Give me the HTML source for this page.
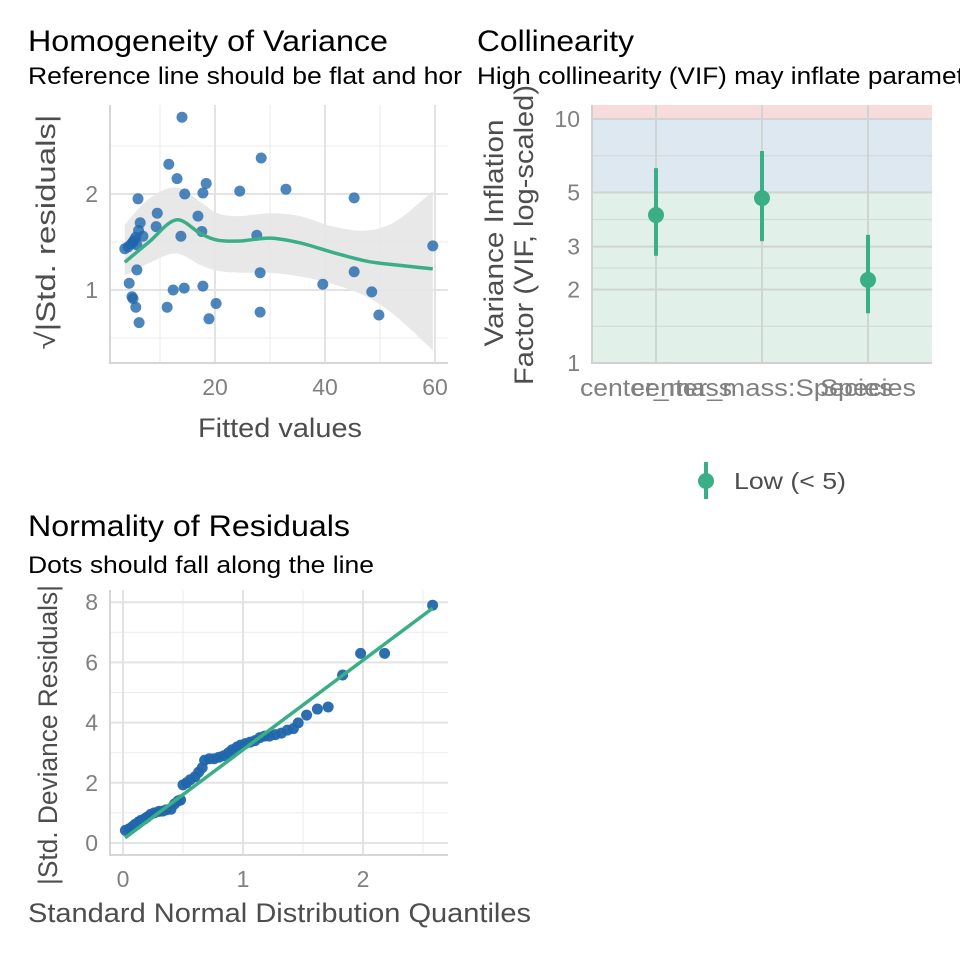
<!DOCTYPE html>
<html><head><meta charset="utf-8"><style>
body{margin:0;background:#fff}
svg{display:block;font-family:"Liberation Sans",sans-serif}
</style></head><body>
<svg id="c" width="960" height="960">
<rect width="960" height="960" fill="#fff"/>
<g id="p1"></g>
<g id="p2"></g>
<g id="p3"></g>
</svg>
<script>
// ---- Panel 1 data ----
const hvFitted=[14.0,28.4,11.6,13.1,18.4,14.5,17.8,24.5,32.9,45.3,6.0,9.5,16.9,9.3,6.4,17.6,13.8,27.6,6.9,5.1,4.2,3.6,5.8,59.6,5.8,28.2,45.3,4.4,39.6,12.4,14.4,17.8,4.9,5.1,48.5,20.2,11.3,5.6,28.2,49.8,18.9,6.2,5.3,6.1,4.8,5.6];
const hvResid=[2.80,2.375,2.31,2.16,2.11,2.00,2.01,2.03,2.05,1.96,1.95,1.80,1.77,1.66,1.70,1.61,1.56,1.57,1.56,1.50,1.45,1.43,1.47,1.46,1.21,1.18,1.19,1.07,1.06,1.00,1.02,1.04,0.93,0.91,0.98,0.86,0.82,0.82,0.77,0.74,0.70,0.66,1.52,1.62,1.48,1.55];
const smoothX=[3.6,8,12.9,17.3,20.4,24.5,30,35.5,41.5,47.6,53,59.6];
const smoothY=[1.29,1.50,1.73,1.59,1.52,1.51,1.54,1.49,1.39,1.30,1.26,1.22];
const bandUpper=[1.68,1.95,2.07,1.92,1.80,1.77,1.80,1.77,1.66,1.62,1.72,2.03];
const bandLower=[1.15,1.28,1.38,1.26,1.20,1.18,1.18,1.14,1.06,0.93,0.72,0.37];
const hvXTicks=[20,40,60];
const hvYTicks=[1,2];
// ---- Panel 2 data ----
const vifTerms=["center_mass","center_mass:Species","Species"];
const vifValues=[4.04,4.74,2.19];
const vifLow=[2.75,3.16,1.60];
const vifHigh=[6.29,7.39,3.35];
const vifTicks=[1,2,3,5,10];
const vifMinor=[1.414,2.449,3.873,7.071];
// ---- Panel 3 data ----
const qqX=[0.02,0.05,0.08,0.1,0.13,0.15,0.18,0.2,0.23,0.26,0.3,0.33,0.36,0.4,0.43,0.46,0.48,0.5,0.53,0.56,0.6,0.63,0.66,0.68,0.72,0.76,0.8,0.84,0.88,0.91,0.95,0.98,1.02,1.06,1.1,1.14,1.18,1.22,1.27,1.32,1.37,1.42,1.46,1.53,1.62,1.71,1.83,1.98,2.18,2.58];
const qqY=[0.42,0.47,0.55,0.62,0.7,0.75,0.8,0.86,0.95,1.0,1.05,1.06,1.1,1.12,1.3,1.4,1.43,1.93,2.0,2.1,2.2,2.35,2.5,2.75,2.8,2.8,2.85,2.9,3.0,3.1,3.19,3.25,3.3,3.35,3.4,3.5,3.55,3.55,3.6,3.65,3.75,3.8,3.99,4.25,4.45,4.52,5.58,6.3,6.3,7.9];
const qqLineX=[0.017,2.58];
const qqLineY=[0.17,7.8];
const qqXTicks=[0,1,2];
const qqYTicks=[0,2,4,6,8];

const NS="http://www.w3.org/2000/svg";
function mk(parent,tag,attrs,text){const e=document.createElementNS(NS,tag);for(const k in attrs)e.setAttribute(k,attrs[k]);if(text!==undefined)e.textContent=text;parent.appendChild(e);return e;}
function crPath(pts,start){let d=start?('M'+pts[0][0]+' '+pts[0][1]):('L'+pts[0][0]+' '+pts[0][1]);
for(let i=0;i<pts.length-1;i++){const p0=pts[Math.max(i-1,0)],p1=pts[i],p2=pts[i+1],p3=pts[Math.min(i+2,pts.length-1)];
const c1=[p1[0]+(p2[0]-p0[0])/6,p1[1]+(p2[1]-p0[1])/6],c2=[p2[0]-(p3[0]-p1[0])/6,p2[1]-(p3[1]-p1[1])/6];
d+=`C${c1[0]} ${c1[1]} ${c2[0]} ${c2[1]} ${p2[0]} ${p2[1]}`;}return d;}
const TICK=23, AXT=27, TITLE=30, SUB=24;

// ===== Panel 1 =====
(function(){
const g=document.getElementById('p1');
const L=110,R=448,T=105,B=363;
const sx=v=>105+5.5*v, sy=v=>386-96*v;
for(const v of [10,30,50]){const l=mk(g,'line',{x1:sx(v),x2:sx(v),y1:T,y2:B,stroke:'#ebebeb','stroke-width':1});}
for(const v of [0.5,1.5,2.5]){const l=mk(g,'line',{x1:L,x2:R,y1:sy(v),y2:sy(v),stroke:'#ebebeb','stroke-width':1});}
for(const v of hvXTicks){const l=mk(g,'line',{x1:sx(v),x2:sx(v),y1:T,y2:B,stroke:'#e3e3e3','stroke-width':2});
const t=mk(g,'text',{x:sx(v),y:B+32,'text-anchor':'middle','font-size':TICK,fill:'#808080'},String(v));}
for(const v of hvYTicks){const l=mk(g,'line',{x1:L,x2:R,y1:sy(v),y2:sy(v),stroke:'#e3e3e3','stroke-width':2});
const t=mk(g,'text',{x:L-12,y:sy(v)+8,'text-anchor':'end','font-size':TICK,fill:'#808080'},String(v));}
const ax=mk(g,'path',{d:`M${L} ${T}V${B}H${R}`,fill:'none',stroke:'#d6d6d6','stroke-width':2});
const up=smoothX.map((x,i)=>[sx(x),sy(bandUpper[i])]);
const lo=smoothX.map((x,i)=>[sx(x),sy(bandLower[i])]).reverse();
const band=mk(g,'path',{d:crPath(up,true)+crPath(lo,false)+'Z',fill:'#e6e6e6','fill-opacity':0.9});
hvFitted.forEach((x,i)=>{const c=mk(g,'circle',{cx:sx(x),cy:sy(hvResid[i]),r:5.5,fill:'#2166ac','fill-opacity':0.8});});
const sp=smoothX.map((x,i)=>[sx(x),sy(smoothY[i])]);
const sl=mk(g,'path',{d:crPath(sp,true),fill:'none',stroke:'#3aaf85','stroke-width':3.5,'stroke-linejoin':'round'});
const t1=mk(g,'text',{x:28,y:51,'font-size':TITLE,fill:'#000',textLength:360,lengthAdjust:'spacingAndGlyphs'},'Homogeneity of Variance');
const t2=mk(g,'text',{x:28,y:84,'font-size':SUB,fill:'#000',textLength:434,lengthAdjust:'spacingAndGlyphs'},'Reference line should be flat and hor');
const xt=mk(g,'text',{x:280,y:437,'text-anchor':'middle','font-size':AXT,fill:'#4d4d4d',textLength:164,lengthAdjust:'spacingAndGlyphs'},'Fitted values');
const yt=mk(g,'text',{x:0,y:0,transform:'translate(55,232) rotate(-90)','text-anchor':'middle','font-size':AXT,fill:'#4d4d4d',textLength:235,lengthAdjust:'spacingAndGlyphs'},'√|Std. residuals|');
})();

// ===== Panel 2 =====
(function(){
const g=document.getElementById('p2');
const L=592,R=932,T=105,B=363;
const sy=v=>363-244*Math.log10(v);
const cx=[656,762,868];
const lblW=[152,262,96];
const r1=mk(g,'rect',{x:L,y:T,width:R-L,height:sy(10)-T,fill:'#f8dcdc'});
const r2=mk(g,'rect',{x:L,y:sy(10),width:R-L,height:sy(5)-sy(10),fill:'#dde8f1'});
const r3=mk(g,'rect',{x:L,y:sy(5),width:R-L,height:B-sy(5),fill:'#e1f1ea'});
for(const v of vifMinor){const l=mk(g,'line',{x1:L,x2:R,y1:sy(v),y2:sy(v),stroke:'#d4d9d9','stroke-width':1.2});}
for(const v of vifTicks){const l=mk(g,'line',{x1:L,x2:R,y1:sy(v),y2:sy(v),stroke:'#cfd4d4','stroke-width':2});
const t=mk(g,'text',{x:L-12,y:sy(v)+8,'text-anchor':'end','font-size':TICK,fill:'#808080'},String(v));}
vifTerms.forEach((n,i)=>{const l=mk(g,'line',{x1:cx[i],x2:cx[i],y1:T,y2:B,stroke:'#cfd4d4','stroke-width':2});});
const ax=mk(g,'path',{d:`M${L} ${T}V${B}H${R}`,fill:'none',stroke:'#d0d0d0','stroke-width':2});
vifTerms.forEach((n,i)=>{
const e=mk(g,'line',{x1:cx[i],x2:cx[i],y1:sy(vifHigh[i]),y2:sy(vifLow[i]),stroke:'#3aaf85','stroke-width':4});
const c=mk(g,'circle',{cx:cx[i],cy:sy(vifValues[i]),r:8,fill:'#3aaf85'});
const t=mk(g,'text',{x:cx[i],y:396,'text-anchor':'middle','font-size':24,fill:'#808080',textLength:lblW[i],lengthAdjust:'spacingAndGlyphs'},n);
});
const t1=mk(g,'text',{x:477,y:51,'font-size':TITLE,fill:'#000',textLength:157,lengthAdjust:'spacingAndGlyphs'},'Collinearity');
const t2=mk(g,'text',{x:477,y:84,'font-size':SUB,fill:'#000',textLength:510,lengthAdjust:'spacingAndGlyphs'},'High collinearity (VIF) may inflate parameter');
const y1=mk(g,'text',{x:0,y:0,transform:'translate(503,233) rotate(-90)','text-anchor':'middle','font-size':AXT,fill:'#4d4d4d',textLength:227,lengthAdjust:'spacingAndGlyphs'},'Variance Inflation');
const y2=mk(g,'text',{x:0,y:0,transform:'translate(533,235) rotate(-90)','text-anchor':'middle','font-size':AXT,fill:'#4d4d4d',textLength:300,lengthAdjust:'spacingAndGlyphs'},'Factor (VIF, log-scaled)');
const lg=mk(g,'g',{});
mk(lg,'line',{x1:706,x2:706,y1:462,y2:499,stroke:'#3aaf85','stroke-width':4});
mk(lg,'circle',{cx:706,cy:481,r:8,fill:'#3aaf85'});
mk(lg,'text',{x:734,y:489,'font-size':TICK,fill:'#4d4d4d',textLength:112,lengthAdjust:'spacingAndGlyphs'},'Low (< 5)');
})();

// ===== Panel 3 =====
(function(){
const g=document.getElementById('p3');
const L=110,R=448,T=590,B=855;
const sx=v=>123+120*v, sy=v=>843-30.1*v;
for(const v of [0.5,1.5,2.5]){const l=mk(g,'line',{x1:sx(v),x2:sx(v),y1:T,y2:B,stroke:'#ebebeb','stroke-width':1});}
for(const v of [1,3,5,7]){const l=mk(g,'line',{x1:L,x2:R,y1:sy(v),y2:sy(v),stroke:'#ebebeb','stroke-width':1});}
for(const v of qqXTicks){const l=mk(g,'line',{x1:sx(v),x2:sx(v),y1:T,y2:B,stroke:'#e3e3e3','stroke-width':2});
const t=mk(g,'text',{x:sx(v),y:B+32,'text-anchor':'middle','font-size':TICK,fill:'#808080'},String(v));}
for(const v of qqYTicks){const l=mk(g,'line',{x1:L,x2:R,y1:sy(v),y2:sy(v),stroke:'#e3e3e3','stroke-width':2});
const t=mk(g,'text',{x:L-12,y:sy(v)+8,'text-anchor':'end','font-size':TICK,fill:'#808080'},String(v));}
const ax=mk(g,'path',{d:`M${L} ${T}V${B}H${R}`,fill:'none',stroke:'#d6d6d6','stroke-width':2});
qqX.forEach((x,i)=>{const c=mk(g,'circle',{cx:sx(x),cy:sy(qqY[i]),r:5.5,fill:'#2166ac','fill-opacity':0.95});});
const rl=mk(g,'line',{x1:sx(qqLineX[0]),y1:sy(qqLineY[0]),x2:sx(qqLineX[1]),y2:sy(qqLineY[1]),stroke:'#3aaf85','stroke-width':3.5});
const t1=mk(g,'text',{x:28,y:536,'font-size':TITLE,fill:'#000',textLength:322,lengthAdjust:'spacingAndGlyphs'},'Normality of Residuals');
const t2=mk(g,'text',{x:28,y:573,'font-size':SUB,fill:'#000',textLength:346,lengthAdjust:'spacingAndGlyphs'},'Dots should fall along the line');
const xt=mk(g,'text',{x:28,y:922,'font-size':AXT,fill:'#4d4d4d',textLength:503,lengthAdjust:'spacingAndGlyphs'},'Standard Normal Distribution Quantiles');
const yt=mk(g,'text',{x:0,y:0,transform:'translate(57,735) rotate(-90)','text-anchor':'middle','font-size':AXT,fill:'#4d4d4d',textLength:300,lengthAdjust:'spacingAndGlyphs'},'|Std. Deviance Residuals|');
})();
</script>
</body></html>
